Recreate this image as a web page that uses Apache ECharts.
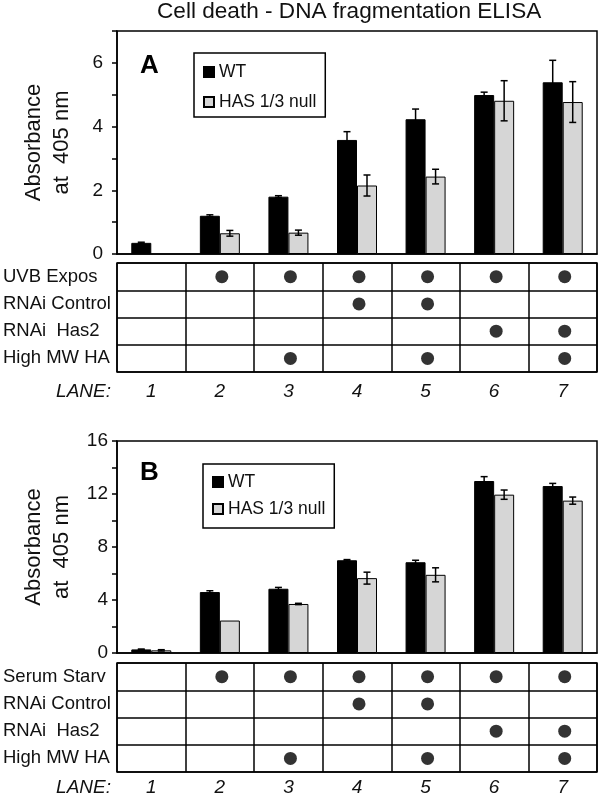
<!DOCTYPE html>
<html>
<head>
<meta charset="utf-8">
<script src="https://cdn.jsdelivr.net/npm/echarts@6/dist/echarts.min.js"></script>
<style>html,body{margin:0;padding:0;background:#fff}#c{width:600px;height:796px}</style>
</head>
<body>
<div id="c"></div>
<script>
// ---- data ----
const lanes = ['1', '2', '3', '4', '5', '6', '7'];
const seriesNames = ['WT', 'HAS 1/3 null'];
const yTicksA = [0, 2, 4, 6];
const yTicksB = [0, 4, 8, 12, 16];

const wtA = [0.35, 1.2, 1.8, 3.58, 4.23, 4.99, 5.39];
const wtErrA = [0.02, 0.03, 0.03, 0.26, 0.32, 0.09, 0.69];
const hasA = [null, 0.65, 0.67, 2.15, 2.43, 4.81, 4.77];
const hasErrA = [null, 0.09, 0.08, 0.33, 0.23, 0.63, 0.64];

const wtB = [0.27, 4.6, 4.85, 7.0, 6.85, 12.98, 12.6];
const wtErrB = [0.03, 0.1, 0.1, 0.05, 0.15, 0.33, 0.2];
const hasB = [0.2, 2.45, 3.7, 5.65, 5.9, 11.95, 11.5];
const hasErrB = [0.05, 0, 0.05, 0.45, 0.53, 0.35, 0.27];

const rowsA = ['UVB Expos', 'RNAi Control', 'RNAi  Has2', 'High MW HA'];
const rowsB = ['Serum Starv', 'RNAi Control', 'RNAi  Has2', 'High MW HA'];
const flagsA = [
  [0, 1, 1, 1, 1, 1, 1],
  [0, 0, 0, 1, 1, 0, 0],
  [0, 0, 0, 0, 0, 1, 1],
  [0, 0, 1, 0, 1, 0, 1]
];
const flagsB = [
  [0, 1, 1, 1, 1, 1, 1],
  [0, 0, 0, 1, 1, 0, 0],
  [0, 0, 0, 0, 0, 1, 1],
  [0, 0, 1, 0, 1, 0, 1]
];

// ---- helpers ----
const FONT = '"Liberation Sans", Arial, Helvetica, sans-serif';

function dots(flags) {
  const out = [];
  flags.forEach((row, r) => row.forEach((f, i) => { if (f) out.push([i, r]); }));
  return out;
}
function errData(vals, errs) {
  const out = [];
  vals.forEach((v, i) => { if (v != null && errs[i]) out.push([i, v, errs[i]]); });
  return out;
}
function errRender(offset) {
  return function (params, api) {
    const i = api.value(0), v = api.value(1), e = api.value(2);
    const top = api.coord([i, v + e]);
    const bot = api.coord([i, v - e]);
    const x = top[0] + offset;
    const st = { stroke: '#000', lineWidth: 1.5 };
    return {
      type: 'group',
      children: [
        { type: 'line', shape: { x1: x, y1: top[1], x2: x, y2: bot[1] }, style: st },
        { type: 'line', shape: { x1: x - 3.5, y1: top[1], x2: x + 3.5, y2: top[1] }, style: st },
        { type: 'line', shape: { x1: x - 3.5, y1: bot[1], x2: x + 3.5, y2: bot[1] }, style: st }
      ]
    };
  };
}

const gridBox = { show: true, borderColor: '#000', borderWidth: 1.5, backgroundColor: 'transparent',
  containLabel: false, outerBoundsMode: 'none' };

function barYAxis(gi, max, interval, ticks, margin) {
  return {
    gridIndex: gi, type: 'value', min: 0, max: max, interval: interval,
    name: 'Absorbance\nat  405 nm', nameLocation: 'middle', nameRotate: 90, nameGap: 41,
    nameMoveOverlap: false,
    nameTextStyle: { fontSize: 22, lineHeight: 28, color: '#111', fontFamily: FONT },
    axisLine: { show: true, lineStyle: { color: '#000', width: 1.5 } },
    axisTick: { show: true, inside: false, length: 5, lineStyle: { color: '#000', width: 1.5 } },
    axisLabel: {
      margin: margin, fontSize: 19, color: '#111', fontFamily: FONT,
      formatter: v => (ticks.indexOf(v) >= 0 ? String(v) : '')
    },
    splitLine: { show: false }
  };
}
function barXAxis(gi) {
  return {
    gridIndex: gi, type: 'category', data: lanes,
    axisLine: { show: true, lineStyle: { color: '#000', width: 1.5 } },
    axisTick: { show: false }, axisLabel: { show: false }, splitLine: { show: false }
  };
}
function tableXAxis(gi, margin) {
  return {
    gridIndex: gi, type: 'category', data: lanes, position: 'bottom',
    axisLine: { show: false }, axisTick: { show: false },
    axisLabel: { show: true, margin: margin, fontSize: 19, fontStyle: 'italic', color: '#111', fontFamily: FONT },
    splitLine: { show: true, interval: 0, lineStyle: { color: '#000', width: 1.5 } },
    name: 'LANE:', nameLocation: 'start', nameGap: 6, nameMoveOverlap: false,
    nameTextStyle: { fontSize: 19, fontStyle: 'italic', color: '#111', fontFamily: FONT,
      verticalAlign: 'top', align: 'right', padding: [margin, 0, 0, 0] }
  };
}
function tableYAxis(gi, rows) {
  return {
    gridIndex: gi, type: 'category', data: rows, inverse: true,
    axisLine: { show: false }, axisTick: { show: false },
    axisLabel: { show: true, align: 'left', margin: 114, fontSize: 18.5, color: '#111', fontFamily: FONT },
    splitLine: { show: true, interval: 0, lineStyle: { color: '#000', width: 1.5 } }
  };
}

const wtStyle = { color: '#000', borderColor: '#000', borderWidth: 1 };
const hasStyle = { color: '#d6d6d6', borderColor: '#000', borderWidth: 1 };

function legend(left, top, pad, gap) {
  return {
    left: left, top: top, orient: 'vertical', data: seriesNames,
    padding: pad, itemGap: gap, itemWidth: 10, itemHeight: 10, itemTextGap: 4, icon: 'rect',
    borderColor: '#000', borderWidth: 1.5, backgroundColor: '#fff',
    textStyle: { fontSize: 17.5, lineHeight: 18, color: '#111', fontFamily: FONT },
    selectedMode: false
  };
}

const option = {
  animation: false,
  textStyle: { fontFamily: FONT },
  title: [
    { text: 'Cell death - DNA fragmentation ELISA', left: 157, top: 0, padding: 0,
      textStyle: { fontSize: 22.6, fontWeight: 'normal', color: '#111', fontFamily: FONT } },
    { text: 'A', left: 140, top: 53, padding: 0,
      textStyle: { fontSize: 26, fontWeight: 'bold', color: '#000', fontFamily: FONT } },
    { text: 'B', left: 140, top: 460, padding: 0,
      textStyle: { fontSize: 26, fontWeight: 'bold', color: '#000', fontFamily: FONT } }
  ],
  legend: [
    legend(194, 53, [10, 9, 6, 9], 12),
    legend(203, 464, [9, 9, 10, 9], 9)
  ],
  grid: [
    Object.assign({ left: 117, top: 31, width: 480, height: 223 }, gridBox),
    Object.assign({ left: 117, top: 263, width: 480, height: 109 }, gridBox),
    Object.assign({ left: 117, top: 441, width: 480, height: 212 }, gridBox),
    Object.assign({ left: 117, top: 663, width: 480, height: 109 }, gridBox)
  ],
  xAxis: [barXAxis(0), tableXAxis(1, 10), barXAxis(2), tableXAxis(3, 6)],
  yAxis: [
    barYAxis(0, 7, 1, yTicksA, 14),
    tableYAxis(1, rowsA),
    barYAxis(2, 16, 2, yTicksB, 9),
    tableYAxis(3, rowsB)
  ],
  series: [
    { name: 'WT', type: 'bar', xAxisIndex: 0, yAxisIndex: 0, data: wtA, barWidth: 20, barGap: '0%', itemStyle: wtStyle },
    { name: 'HAS 1/3 null', type: 'bar', xAxisIndex: 0, yAxisIndex: 0, data: hasA, barWidth: 20, barGap: '0%', itemStyle: hasStyle },
    { type: 'custom', xAxisIndex: 0, yAxisIndex: 0, data: errData(wtA, wtErrA), renderItem: errRender(-10), z: 5, encode: { x: 0, y: 1 } },
    { type: 'custom', xAxisIndex: 0, yAxisIndex: 0, data: errData(hasA, hasErrA), renderItem: errRender(10), z: 5, encode: { x: 0, y: 1 } },
    { type: 'scatter', xAxisIndex: 1, yAxisIndex: 1, data: dots(flagsA), symbolSize: 13, symbolOffset: [2, 0], itemStyle: { color: '#000' } },

    { name: 'WT', type: 'bar', xAxisIndex: 2, yAxisIndex: 2, data: wtB, barWidth: 20, barGap: '0%', itemStyle: wtStyle },
    { name: 'HAS 1/3 null', type: 'bar', xAxisIndex: 2, yAxisIndex: 2, data: hasB, barWidth: 20, barGap: '0%', itemStyle: hasStyle },
    { type: 'custom', xAxisIndex: 2, yAxisIndex: 2, data: errData(wtB, wtErrB), renderItem: errRender(-10), z: 5, encode: { x: 0, y: 1 } },
    { type: 'custom', xAxisIndex: 2, yAxisIndex: 2, data: errData(hasB, hasErrB), renderItem: errRender(10), z: 5, encode: { x: 0, y: 1 } },
    { type: 'scatter', xAxisIndex: 3, yAxisIndex: 3, data: dots(flagsB), symbolSize: 13, symbolOffset: [2, 0], itemStyle: { color: '#000' } }
  ]
};

const chart = echarts.init(document.getElementById('c'), null, { renderer: 'canvas', width: 600, height: 796 });
chart.setOption(option);
</script>
</body>
</html>
